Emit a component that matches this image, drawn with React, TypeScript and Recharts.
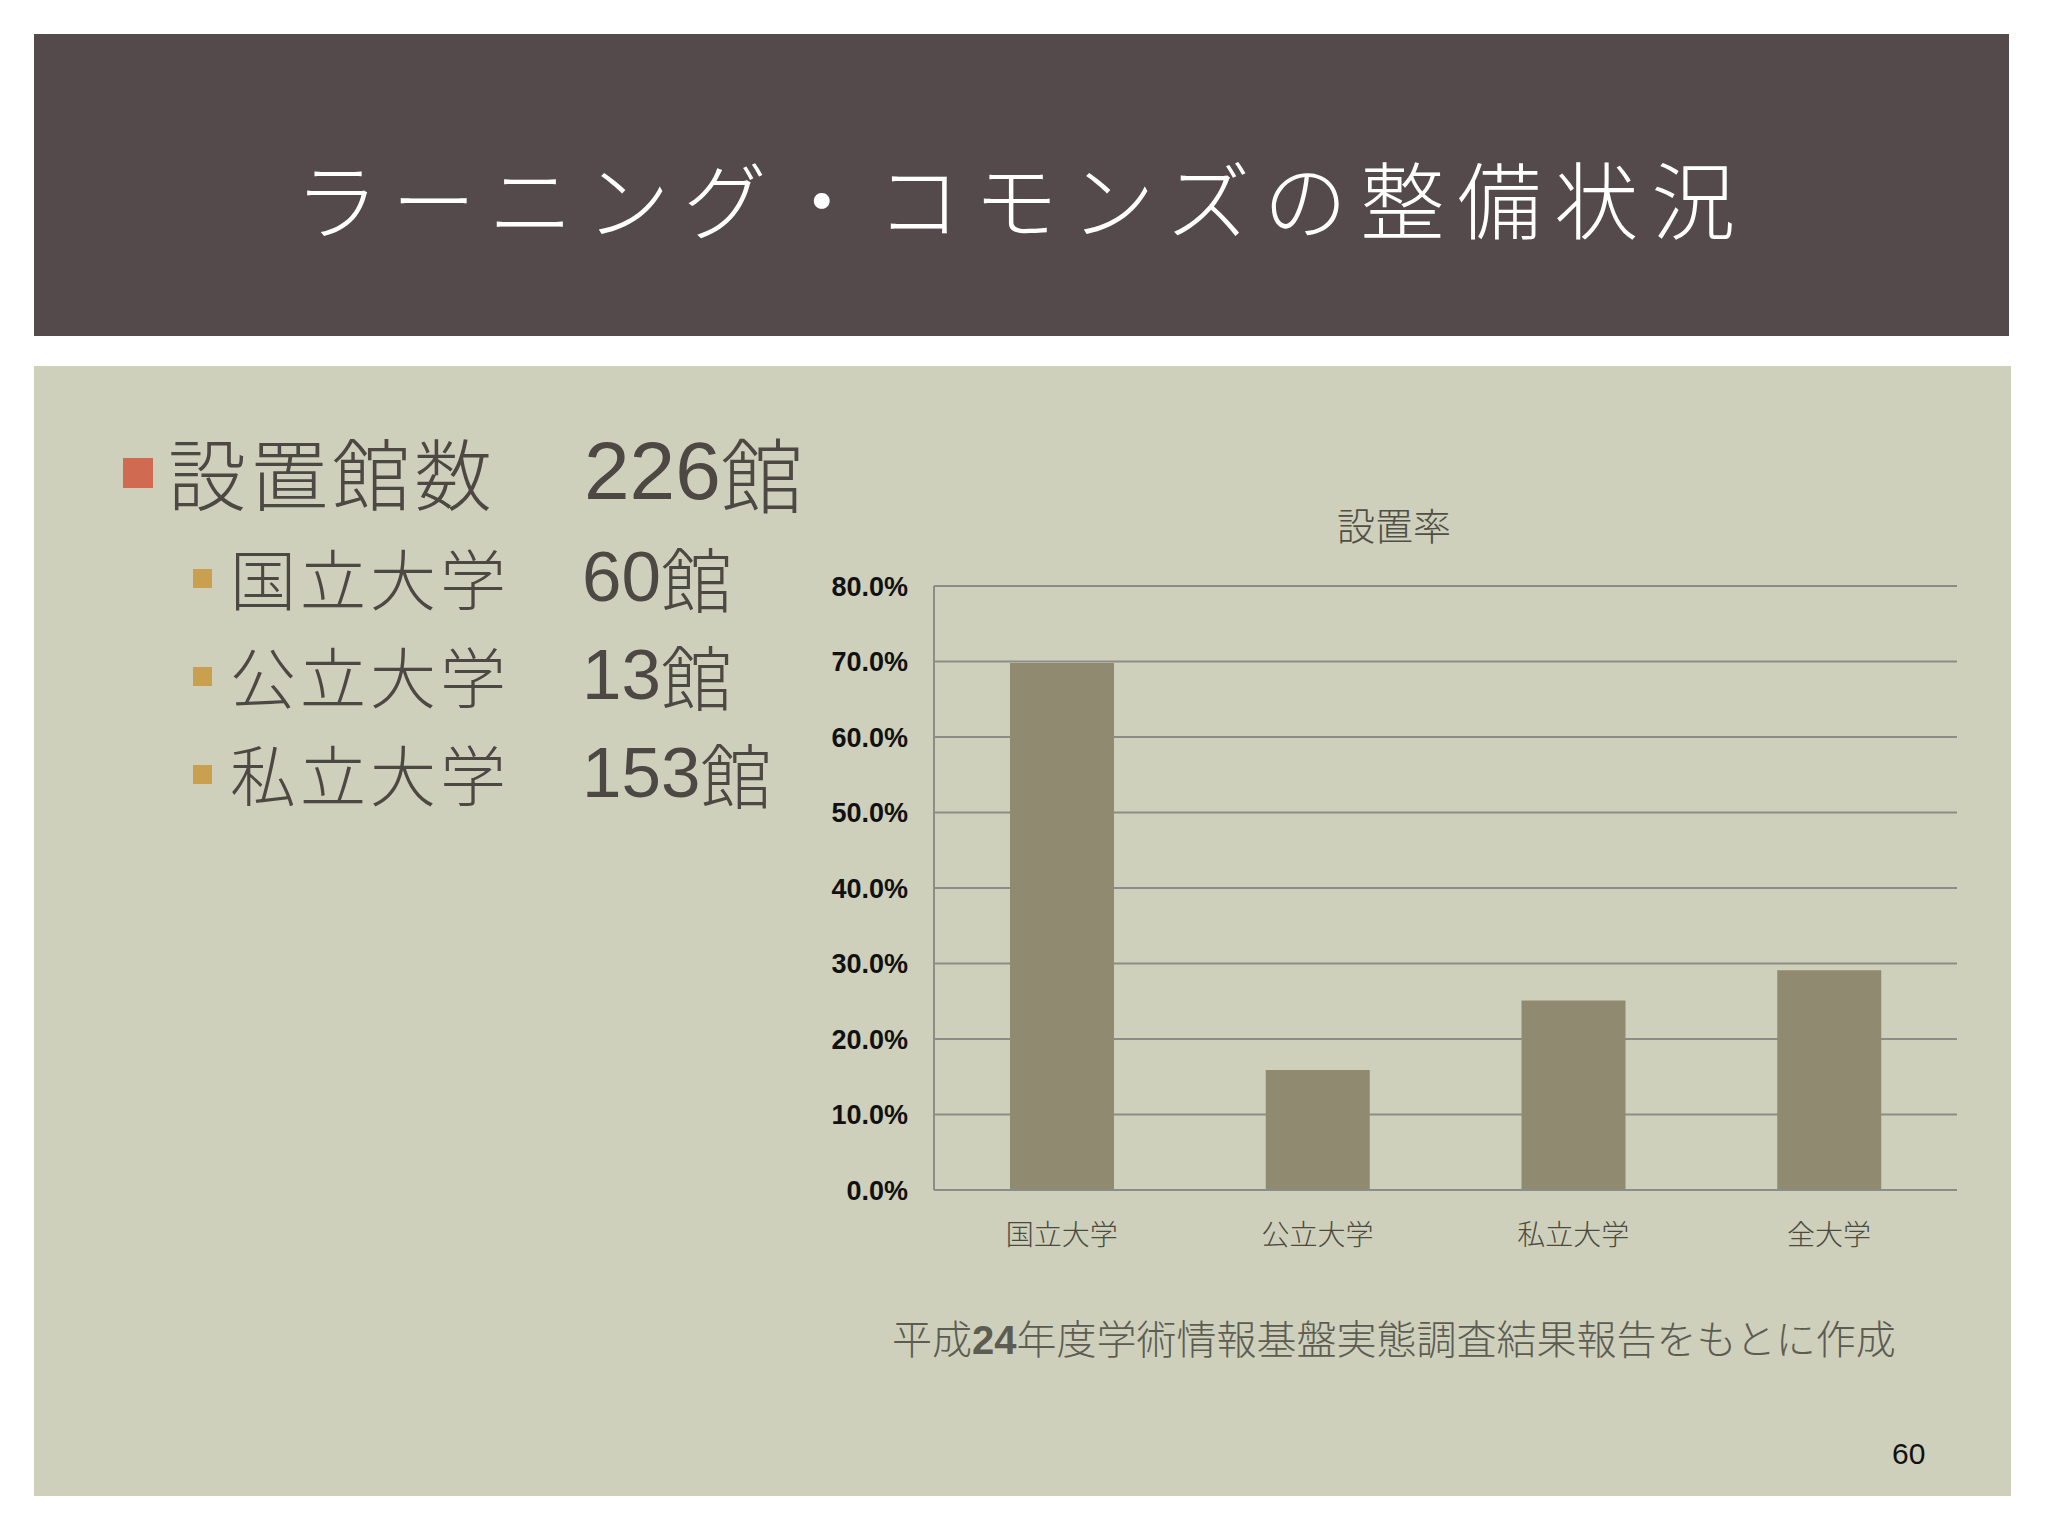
import React from 'react';
import { BarChart, Bar, XAxis, YAxis, CartesianGrid } from 'recharts';

// 設置率 (share of libraries with a learning commons)
const categories = ['国立大学', '公立大学', '私立大学', '全大学'];
const rates = [0.698, 0.159, 0.251, 0.291];
const yTicks = [0, 0.1, 0.2, 0.3, 0.4, 0.5, 0.6, 0.7, 0.8];

// left side bullet list
const countLabels = ['国立大学', '公立大学', '私立大学'];
const countValues = ['60', '13', '153'];
const totalLabel = '設置館数';
const totalValue = '226';

const chartData = categories.map((name, i) => ({ name, rate: rates[i] }));

const JP = "'Noto Sans CJK JP', 'Noto Sans', sans-serif";
const NUM = "'Liberation Sans', 'Noto Sans CJK JP', sans-serif";
const GRID = '#8d8d88';

const App = () => {
  const rowCenters = [576, 674, 772];

  return (
    <div style={{ position: 'absolute', left: 0, top: 0, width: 2048, height: 1536, background: '#ffffff', overflow: 'hidden' }}>
      {/* title bar */}
      <div
        style={{
          position: 'absolute', left: 34, top: 34, width: 1975, height: 302,
          background: '#54494b', display: 'flex', alignItems: 'center', justifyContent: 'center',
        }}
      >
        <span style={{ color: '#ffffff', fontFamily: JP, fontWeight: 300, fontSize: 84, letterSpacing: 13, marginTop: 22 }}>
          ラーニング・コモンズの整備状況
        </span>
      </div>

      {/* content panel */}
      <div style={{ position: 'absolute', left: 34, top: 366, width: 1977, height: 1130, background: '#ced0bb' }} />

      {/* main bullet */}
      <div style={{ position: 'absolute', left: 123, top: 458, width: 30, height: 30, background: '#d06a50' }} />
      <div style={{ position: 'absolute', left: 168, top: 421, height: 100, display: 'flex', alignItems: 'center', fontFamily: JP, fontWeight: 300, fontSize: 78, letterSpacing: 4, color: '#4d4843' }}>
        {totalLabel}
      </div>
      <div style={{ position: 'absolute', left: 584, top: 421, height: 100, display: 'flex', alignItems: 'center', fontFamily: NUM, fontSize: 82, color: '#4d4843' }}>
        {totalValue}<span style={{ fontFamily: JP, fontWeight: 300 }}>館</span>
      </div>

      {/* sub bullets */}
      {countLabels.map((lab, i) => (
        <React.Fragment key={lab}>
          <div style={{ position: 'absolute', left: 193, top: rowCenters[i] - 7, width: 19, height: 19, background: '#c9a050' }} />
          <div style={{ position: 'absolute', left: 230, top: rowCenters[i] - 50, height: 100, display: 'flex', alignItems: 'center', fontFamily: JP, fontWeight: 300, fontSize: 66, letterSpacing: 4, color: '#4d4843' }}>
            {lab}
          </div>
          <div style={{ position: 'absolute', left: 582, top: rowCenters[i] - 50, height: 100, display: 'flex', alignItems: 'center', fontFamily: NUM, fontSize: 71, color: '#4d4843' }}>
            {countValues[i]}<span style={{ fontFamily: JP, fontWeight: 300 }}>館</span>
          </div>
        </React.Fragment>
      ))}

      {/* chart title */}
      <div style={{ position: 'absolute', left: 1294, width: 200, top: 496, textAlign: 'center', fontFamily: JP, fontWeight: 300, fontSize: 38, color: '#4f4f45' }}>
        設置率
      </div>

      <div style={{ position: 'absolute', left: 800, top: 470 }}>
        <BarChart
          width={1200}
          height={850}
          data={chartData}
          margin={{ top: 116, right: 43, bottom: 50, left: 34 }}
          barCategoryGap="0%"
        >
          <CartesianGrid vertical={false} stroke={GRID} strokeWidth={2} />
          <XAxis
            dataKey="name"
            axisLine={{ stroke: GRID, strokeWidth: 2 }}
            tickLine={false}
            tickSize={0}
            tickMargin={35}
            height={80}
            tick={{ fontFamily: JP, fontWeight: 300, fontSize: 28, fill: '#4a4a40' }}
          />
          <YAxis
            domain={[0, 0.8]}
            ticks={yTicks}
            interval={0}
            width={100}
            axisLine={{ stroke: GRID, strokeWidth: 2 }}
            tickLine={false}
            tickSize={0}
            tickMargin={26}
            tickFormatter={(v: number) => (v * 100).toFixed(1) + '%'}
            tick={{ fontFamily: NUM, fontWeight: 700, fontSize: 27, fill: '#111111' }}
          />
          <Bar dataKey="rate" fill="#908a70" barSize={104} isAnimationActive={false} />
        </BarChart>
      </div>

      {/* source note */}
      <div style={{ position: 'absolute', left: 892, top: 1308, fontFamily: JP, fontWeight: 300, fontSize: 40, color: '#5c5c52', whiteSpace: 'nowrap' }}>
        平成<span style={{ fontFamily: NUM, fontWeight: 700 }}>24</span>年度学術情報基盤実態調査結果報告をもとに作成
      </div>

      {/* page number */}
      <div style={{ position: 'absolute', left: 1892, top: 1437, fontFamily: NUM, fontSize: 30, color: '#111111' }}>
        60
      </div>
    </div>
  );
};

export default App;
